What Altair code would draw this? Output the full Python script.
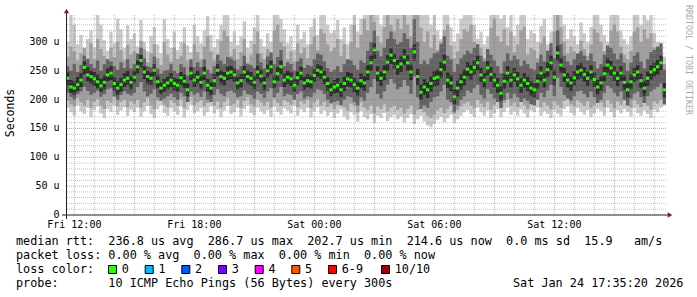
import altair as alt
import pandas as pd

# ---------------- data (microseconds) ----------------
MED = [
237,222,220,226,234,256,243,240,236,231,224,230,243,246,228,220,226,234,237,230,
239,257,268,248,240,237,251,231,220,225,229,234,228,225,238,232,217,246,234,239,
230,246,225,220,233,251,240,237,246,248,243,229,233,248,240,237,230,248,241,229,
250,257,231,245,257,234,239,236,225,238,246,229,233,231,242,251,248,239,228,217,
222,225,217,228,236,234,226,220,233,229,248,264,286,246,237,248,265,277,268,257,
262,274,264,248,283,240,213,222,217,228,237,239,252,265,234,229,205,220,231,239,
253,248,256,264,243,234,255,244,234,225,211,232,246,234,243,236,225,234,228,220,
217,232,246,234,252,264,239,281,260,243,234,229,238,248,251,244,237,248,235,222,
229,245,260,255,246,237,246,230,217,231,243,248,233,220,237,248,252,257,264,217]

HI1 = [
300,347,330,296,312,288,305,320,290,347,330,303,285,318,298,340,322,290,329,305,
315,292,338,300,284,310,326,296,280,340,305,290,318,286,300,325,294,282,330,310,
298,320,345,312,290,305,330,347,347,300,318,295,310,336,290,302,325,347,305,292,
315,300,347,347,340,322,298,310,287,330,305,318,296,326,340,312,347,347,330,316,
320,338,305,325,296,330,347,318,340,347,347,347,347,347,330,347,347,347,347,347,
347,347,347,347,347,347,347,347,347,330,347,320,305,347,347,325,300,315,340,347,
347,347,330,306,318,296,310,347,347,347,340,347,325,347,310,330,347,347,305,320,
315,300,328,340,296,318,347,347,347,330,305,322,310,296,334,315,300,326,347,347,
330,312,300,347,347,347,320,305,296,310,347,347,330,347,338,347,316,300,290,275]

LO1 = [
185,178,172,190,180,175,186,170,182,188,176,168,184,179,190,174,181,187,172,183,
178,186,171,180,189,175,168,183,190,177,172,185,180,174,188,169,182,191,176,180,
185,172,179,188,176,183,170,181,189,175,178,186,171,184,190,177,173,186,180,175,
182,170,188,179,174,185,181,176,190,172,183,178,186,169,180,187,175,181,172,178,
168,176,183,171,165,178,174,162,180,170,166,175,160,172,168,177,163,170,174,166,
171,160,168,175,158,166,172,162,155,152,158,165,170,161,168,174,160,166,172,178,
182,175,170,186,178,172,181,168,176,184,170,179,186,174,180,172,183,176,169,181,
178,186,172,180,175,168,182,176,171,184,188,177,173,185,179,174,182,170,176,184,
180,172,186,178,170,182,176,184,179,171,185,177,172,181,175,168,183,178,186,190]

HI2 = [
275,292,284,268,280,290,272,298,270,305,288,276,262,290,274,300,286,268,295,278,
284,270,302,288,265,280,296,272,260,300,278,266,290,270,276,298,268,262,296,282,
270,292,310,284,268,278,302,320,310,276,288,270,282,305,265,278,296,318,280,270,
288,274,320,330,300,292,270,284,266,298,280,290,272,296,310,286,322,315,296,284,
290,305,276,296,270,300,330,290,312,340,320,347,335,310,298,326,347,330,318,340,
322,347,330,310,347,347,325,300,318,290,312,286,300,320,330,294,272,284,305,322,
318,330,300,282,290,272,286,325,340,310,300,322,294,318,282,296,320,326,278,290,
286,272,298,310,270,290,318,347,325,300,280,292,284,270,302,288,276,296,322,316,
300,284,276,320,330,318,292,278,270,285,318,325,300,322,306,315,290,278,272,262]

LO2 = [
198,192,188,203,195,190,200,186,196,201,190,184,198,194,204,188,196,200,187,197,
193,200,186,195,203,190,184,198,204,191,187,199,194,189,202,185,196,204,190,195,
199,188,194,202,190,197,186,196,203,190,193,200,186,198,204,192,188,200,195,190,
196,186,202,194,189,199,196,191,204,187,197,193,200,185,195,201,190,196,187,192,
184,191,197,186,181,193,189,178,195,186,182,190,176,188,184,192,180,186,190,182,
186,176,184,190,174,182,187,178,172,168,174,181,186,177,184,190,176,182,188,193,
196,190,185,200,193,187,196,183,191,198,185,194,200,189,195,187,197,191,184,196,
193,200,187,195,190,183,197,191,186,198,202,192,188,199,194,189,197,185,191,198,
195,187,200,193,185,197,191,198,194,186,199,192,187,196,190,183,197,193,200,203]

HI3 = [
258,250,262,248,260,276,270,262,255,268,250,262,270,266,258,252,265,255,270,254,
262,280,290,272,258,256,275,254,245,250,252,262,250,246,262,256,242,270,256,265,
256,270,252,246,258,278,268,262,274,272,268,252,258,276,262,260,255,280,265,254,
275,282,262,274,286,258,265,262,250,266,272,255,260,258,270,280,278,266,255,248,
252,258,248,262,270,268,260,252,268,264,285,300,320,285,275,290,305,318,305,296,
300,315,305,290,340,300,262,268,262,272,280,282,296,310,276,270,248,262,272,278,
285,280,290,296,276,266,288,278,268,258,246,266,280,268,276,270,258,268,262,254,
252,264,278,266,285,298,272,320,296,276,266,260,270,280,284,276,268,280,266,254,
262,278,294,290,280,270,280,264,250,264,276,282,266,254,270,282,286,292,298,252]

LO3 = [
212,205,200,210,214,222,215,208,212,216,205,210,218,220,206,200,208,214,210,207,
212,222,230,214,206,210,218,204,198,202,206,210,204,200,212,206,196,214,208,212,
205,214,200,196,208,218,210,206,214,216,212,204,206,216,210,208,202,214,210,203,
214,220,204,212,222,206,210,208,200,210,214,202,206,204,212,218,216,210,200,194,
196,198,190,200,206,204,196,190,204,198,212,222,236,210,202,214,226,236,228,218,
222,234,224,210,240,204,184,190,186,196,204,206,214,226,200,196,178,190,200,206,
216,212,220,226,208,202,218,210,202,196,186,200,212,202,210,204,196,202,198,192,
190,200,212,204,216,226,206,238,222,208,202,198,206,214,216,210,204,214,204,194,
200,212,224,220,212,206,214,200,190,202,210,214,204,194,206,214,218,222,228,192]

HI4 = [
247,234,232,240,246,266,256,250,248,243,236,242,254,258,240,232,238,246,250,241,
250,268,278,258,250,247,262,242,230,236,240,246,238,236,248,243,228,256,245,250,
241,257,236,231,244,262,251,248,257,259,254,240,244,259,251,248,241,259,252,240,
261,268,242,256,268,245,250,247,236,249,257,240,244,242,253,262,259,250,239,228,
234,237,229,240,248,246,238,232,245,241,260,276,298,258,249,260,277,289,280,269,
275,287,277,261,296,253,226,235,230,241,250,252,265,278,247,242,218,233,244,252,
265,260,268,276,255,246,267,256,246,237,223,244,258,246,255,248,237,246,240,232,
229,244,258,246,264,276,251,293,272,255,246,241,250,260,263,256,249,260,247,234,
241,257,272,267,258,249,258,242,229,243,255,260,245,232,249,260,264,269,276,229]

LO4 = [
226,212,208,215,222,244,232,228,224,220,214,218,232,234,216,208,214,222,226,218,
228,246,256,236,228,226,240,220,210,214,218,222,216,214,226,220,206,234,222,228,
219,234,214,208,222,240,228,225,234,236,231,218,221,236,228,225,218,236,229,217,
238,245,220,233,245,222,227,224,214,226,234,217,221,219,230,239,236,227,216,206,
210,212,205,215,223,221,213,207,220,216,234,250,270,232,224,234,250,262,254,243,
248,260,250,234,268,226,200,208,203,214,223,225,238,250,220,215,192,206,217,225,
240,235,243,251,230,221,242,231,221,212,198,219,233,221,230,223,212,221,215,207,
204,219,233,221,239,251,226,268,247,230,221,216,225,235,238,231,224,235,222,209,
216,232,247,242,233,224,233,217,204,218,230,235,220,207,224,235,239,244,251,204]

X_TICKS = [12, 18, 24, 30, 36]
X_LABELS = ["Fri 12:00", "Fri 18:00", "Sat 00:00", "Sat 06:00", "Sat 12:00"]
Y_TICKS = [0, 50, 100, 150, 200, 250, 300]
Y_LABELS = ["0  ", "50 u", "100 u", "150 u", "200 u", "250 u", "300 u"]
H_MINOR = [v for v in range(10, 350, 10) if v % 50]
H_MAJOR = [50, 100, 150, 200, 250, 300]
V_MINOR = [h for h in range(12, 42) if h % 3]
V_MAJOR = [h for h in range(12, 42) if h % 3 == 0]

LOSS_LABELS = ["0", "1", "2", "3", "4", "5", "6-9", "10/10"]
LOSS_COLORS = ["#26ff00", "#00b8ff", "#0059ff", "#7e00ff", "#ff00ff", "#ff5500", "#ff0000", "#a10000"]

LINE1 = "median rtt:  236.8 us avg  286.7 us max  202.7 us min  214.6 us now  0.0 ms sd  15.9   am/s"
LINE2 = "packet loss: 0.00 % avg  0.00 % max  0.00 % min  0.00 % now"
LINE3 = "loss color:"
LINE4 = "probe:       10 ICMP Echo Pings (56 Bytes) every 300s"
DATE = "Sat Jan 24 17:35:20 2026"

# ---------------- layout ----------------
T0 = 11 + 35 / 60.0        # Fri 11:35 (hours since Fri 00:00)
STEP = 1 / 6.0             # 10 minutes
PL, PT, W, H = 66, 15, 600, 200
YMAX = 346.8
MONO = "DejaVu Sans Mono"
FS = 11.8

n = len(MED)
def ext(a):
    return list(a) + [a[-1]]
ts = [T0 + k * STEP for k in range(n + 1)]
df = pd.DataFrame({
    "t": ts, "t2": [t + STEP for t in ts], "med": ext(MED),
    "lo1": ext(LO1), "hi1": ext(HI1), "lo2": ext(LO2), "hi2": ext(HI2),
    "lo3": ext(LO3), "hi3": ext(HI3), "lo4": ext(LO4), "hi4": ext(HI4),
})
dfm = df.iloc[:n]

xs = alt.Scale(domain=[T0, T0 + 30], nice=False, zero=False)
ys = alt.Scale(domain=[0, YMAX], nice=False, zero=False)

nb = "\u00a0"
def nbsp(s):
    return s.replace(" ", nb)

layers = []
band_cols = ["#cacaca", "#a0a0a0", "#626262", "#2c2c2c"]
for i, col in enumerate(band_cols, start=1):
    layers.append(
        alt.Chart(df).mark_area(interpolate="step-after", color=col, clip=True).encode(
            x=alt.X("t:Q", scale=xs, axis=None),
            y=alt.Y(f"lo{i}:Q", scale=ys, axis=None),
            y2=f"hi{i}:Q",
        )
    )

layers.append(
    alt.Chart(dfm).transform_calculate(a="datum.med - 2.6", b="datum.med + 2.6")
    .mark_rect(color="#26ff00", clip=True)
    .encode(x=alt.X("t:Q", scale=xs, axis=None), x2="t2:Q",
            y=alt.Y("a:Q", scale=ys, axis=None), y2="b:Q")
)

# grid (drawn over the smoke, dotted)
def hgrid(vals, col, op):
    return alt.Chart(pd.DataFrame({"v": vals})).mark_rule(
        color=col, opacity=op, strokeDash=[1, 1], strokeWidth=1
    ).encode(y=alt.Y("v:Q", scale=ys, axis=None))
def vgrid(vals, col, op):
    return alt.Chart(pd.DataFrame({"v": vals})).mark_rule(
        color=col, opacity=op, strokeDash=[1, 1], strokeWidth=1
    ).encode(x=alt.X("v:Q", scale=xs, axis=None))
layers += [hgrid(H_MINOR, "#8f8f8f", 0.55), vgrid(V_MINOR, "#8f8f8f", 0.55),
           hgrid(H_MAJOR, "#de4f4f", 0.55), vgrid(V_MAJOR, "#de4f4f", 0.55)]

# tick labels (drawn from the tick lists through the scales)
ydf = pd.DataFrame({"v": Y_TICKS, "l": [nbsp(s) for s in Y_LABELS]})
layers.append(alt.Chart(ydf).mark_text(font=MONO, fontSize=10, color="black", align="right",
                                       baseline="middle").encode(
    x=alt.value(59.5 - PL), y=alt.Y("v:Q", scale=ys, axis=None), text="l:N"))
xdf = pd.DataFrame({"v": X_TICKS, "l": [nbsp(s) for s in X_LABELS]})
layers.append(alt.Chart(xdf).mark_text(font=MONO, fontSize=10, color="black", align="center",
                                       baseline="alphabetic").encode(
    x=alt.X("v:Q", scale=xs, axis=None), y=alt.value(227.5 - PT), text="l:N"))

one = pd.DataFrame({"a": [0]})
# axes lines and arrows
layers.append(alt.Chart(one).mark_rule(color="#1f1f1f", strokeWidth=1).encode(
    x=alt.value(-4), x2=alt.value(603), y=alt.value(H)))
layers.append(alt.Chart(one).mark_rule(color="#1f1f1f", strokeWidth=1).encode(
    x=alt.value(0.5), y=alt.value(-4), y2=alt.value(H + 4)))
layers.append(alt.Chart(one).mark_point(shape="triangle-up", filled=True, color="#801f1f",
                                        size=28, opacity=1).encode(
    x=alt.value(0.5), y=alt.value(-4)))
layers.append(alt.Chart(one).mark_point(shape="triangle-right", filled=True, color="#801f1f",
                                        size=28, opacity=1).encode(
    x=alt.value(604), y=alt.value(H)))

def txt(s, xa, ya, size=FS, color="black", angle=0, align="left", baseline="alphabetic"):
    return alt.Chart(pd.DataFrame({"s": [nbsp(s)]})).mark_text(
        font=MONO, fontSize=size, color=color, angle=angle, align=align, baseline=baseline
    ).encode(x=alt.value(xa - PL), y=alt.value(ya - PT), text="s:N")

layers.append(txt("Seconds", 11, 113, size=11.5, angle=270, align="center", baseline="middle"))
layers.append(txt("RRDTOOL / TOBI OETIKER", 688, 60, size=8.3, color="#a9a9a9", angle=90,
                  align="center", baseline="middle"))
layers.append(txt(LINE1, 16, 245))
layers.append(txt(LINE2, 16, 259))
layers.append(txt(LINE3, 16, 273))
layers.append(txt(LINE4, 16, 287))
layers.append(txt(DATE, 513, 287))

box_x = [108, 144.7, 181.3, 218, 254.7, 291.3, 328, 381]
for bx, lab, col in zip(box_x, LOSS_LABELS, LOSS_COLORS):
    layers.append(alt.Chart(one).mark_rect(fill=col, stroke="black", strokeWidth=1).encode(
        x=alt.value(bx - PL + 0.5), x2=alt.value(bx - PL + 8.5),
        y=alt.value(265.5 - PT), y2=alt.value(273.5 - PT)))
    layers.append(txt(lab, bx + 13.7, 273))

chart = alt.layer(*layers).properties(
    width=W, height=H,
    padding={"left": PL, "top": PT, "right": 697 - PL - W, "bottom": 297 - PT - H},
    autosize=alt.AutoSizeParams(type="none"),
    background="white",
).configure_view(stroke=None)

chart.save("out.html", embed_options={"renderer": "svg", "actions": False})
